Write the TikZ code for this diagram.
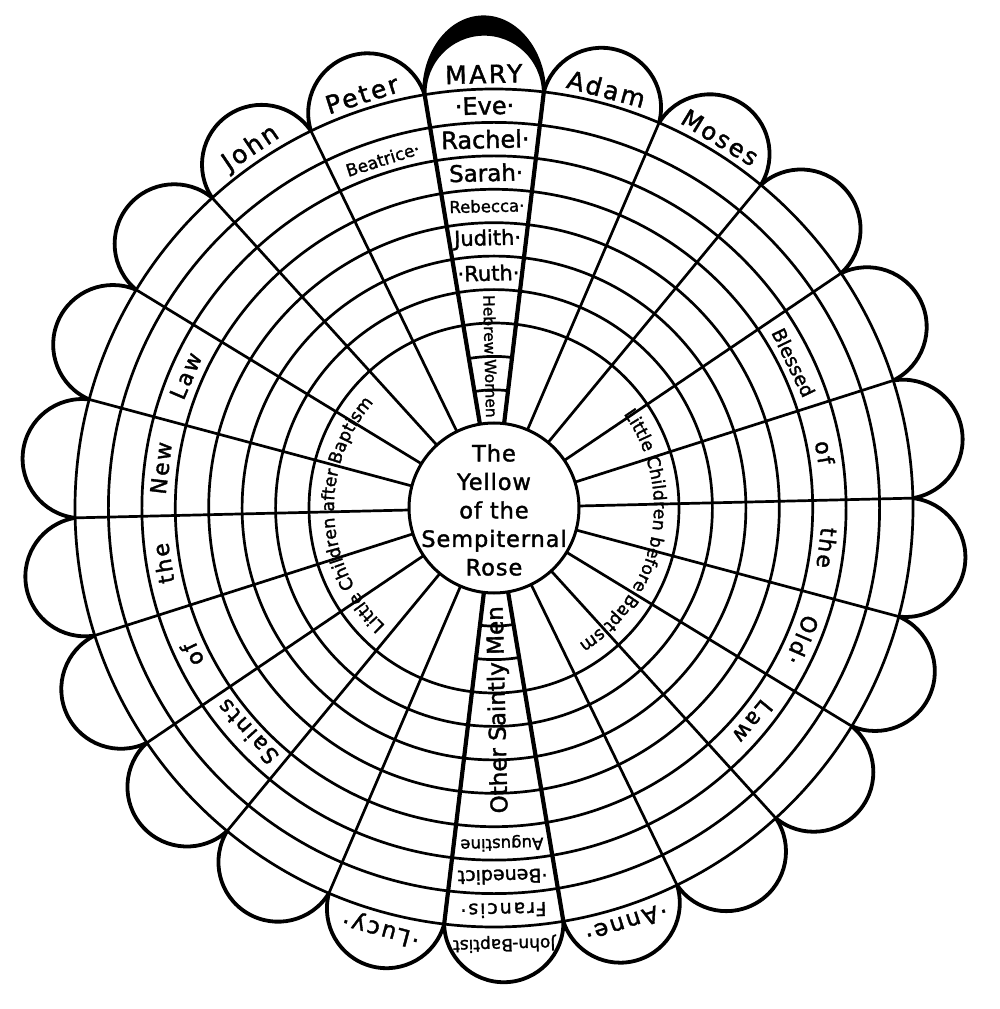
\documentclass[tikz,border=0pt]{standalone}
\usepackage{fontspec}
\setmainfont{DejaVu Sans}
\newfontfamily\rf[FakeBold=1.6]{DejaVu Sans}
\newfontfamily\rfw[FakeBold=1.6,LetterSpace=10]{DejaVu Sans}
\newfontfamily\rfm[FakeBold=1.6,LetterSpace=4]{DejaVu Sans}
\usetikzlibrary{decorations.text}
\newcommand\lcf{\rf\fontsize{17.5}{18}\selectfont}
\tikzset{
  ringline/.style={line width=2.7pt},
  rayline/.style={line width=2.7pt},
  colray/.style={line width=4.2pt},
  petalcap/.style={line width=3.8pt},
  lab/.style={inner sep=0pt, font=\rf\fontsize{#1}{#1}\selectfont},
  wlab/.style={inner sep=0pt, font=\rfw\fontsize{#1}{#1}\selectfont}
}
\begin{document}
\begin{tikzpicture}[x=1pt,y=1pt]
\fill[white] (-494,-501) rectangle (506,508);
\useasboundingbox (-494,-501) rectangle (506,508);

% rings
\foreach \r in {185,218.4,251.9,285.3,318.7,352.1,385.6,419}
  \draw[ringline] (0,0) circle[radius=\r pt];

% short rings inside the two special columns
\foreach \r in {118.1,151.6} {
  \draw[ringline] (83.17:\r pt) arc[start angle=83.17, end angle=99.53, radius=\r pt];
  \draw[ringline] (263.17:\r pt) arc[start angle=263.17, end angle=279.53, radius=\r pt];
}

% rays and petal caps
\foreach \k in {0,...,21} {
  \pgfmathsetmacro\p{1.35+16.3636*\k}
  \pgfmathsetmacro\s{\p+8.1818-90}
  \pgfmathsetmacro\e{\p+8.1818+90}
  \draw[rayline] (\p:85pt) -- (\p:419pt);
  \draw[petalcap] (\p:419pt) arc[start angle=\s, end angle=\e, radius=59.63pt];
}
\foreach \p in {83.17,99.53,263.17,279.53}
  \draw[colray] (\p:85pt) -- (\p:419pt);

% dark band of Mary's petal
\begin{scope}[rotate=1.35]
  \fill (-62,414.73) arc[start angle=180, end angle=0, x radius=62pt, y radius=78pt]
        -- (59.63,414.73) arc[start angle=0, end angle=180, radius=59.63pt] -- cycle;
\end{scope}

% hub
\node[draw, circle, line width=3pt, minimum size=170pt, inner sep=0pt, fill=white] (hub) at (0,0) {};
\node[align=center, inner sep=0pt, font=\rfm\fontsize{22.5}{28.5}\selectfont] (hubtext) at (0,-2)
  {The\\Yellow\\of the\\Sempiternal\\Rose};

% Mary column
\node[wlab=25, rotate=1.35] (mary) at (91.35:434pt) {MARY};
\node[lab=24, rotate=1.35] (eve) at (91.35:402.3pt) {·Eve·};
\node[lab=24, rotate=1.35] (rachel) at (91.35:368.85pt) {Rachel·};
\node[lab=23, rotate=1.35] (sarah) at (91.35:335.4pt) {Sarah·};
\node[lab=16.5, rotate=1.35] (rebecca) at (91.35:302pt) {Rebecca·};
\node[lab=21, rotate=1.35] (judith) at (91.35:268.6pt) {Judith·};
\node[lab=21, rotate=1.35] (ruth) at (91.35:235.1pt) {·Ruth·};
\node[lab=15.5, rotate=-88.65] (hebrew) at (91.35:151.7pt) {Hebrew Women};

% bottom column
\node[lab=17, rotate=181.35] (baptist) at (271.35:436pt) {John-Baptist};
\node[wlab=19, rotate=181.35] (francis) at (271.35:402.3pt) {Francis·};
\node[lab=19, rotate=181.35] (benedict) at (271.35:368.85pt) {·Benedict};
\node[lab=16.5, rotate=181.35] (augustine) at (271.35:335.4pt) {Augustine};
\node[lab=23, rotate=91.35] (saintly) at (271.35:201.85pt) {Other Saintly Men};

% petal names
\node[wlab=25, rotate=-15.01] (adam) at (74.99:434pt) {Adam};
\node[wlab=24, rotate=-31.38] (moses) at (58.62:434pt) {Moses};
\node[wlab=25, rotate=17.71] (peter) at (107.71:434pt) {Peter};
\node[wlab=25, rotate=34.08] (john) at (124.08:434pt) {John};
\node[wlab=23, rotate=164.99] (lucy) at (254.99:436pt) {·Lucy·};
\node[wlab=23, rotate=197.71] (anne) at (287.71:436pt) {·Anne·};
\node[lab=17, rotate=17.71] (beatrice) at (107.71:366pt) {Beatrice·};

% Saints of the New Law
\node[wlab=22, rotate=66.80] (lawnew) at (156.80:335.4pt) {Law};
\node[wlab=22, rotate=83.17] (new) at (173.17:335.4pt) {New};
\node[wlab=22, rotate=99.53] (thenew) at (189.53:335.4pt) {the};
\node[wlab=22, rotate=115.89] (ofnew) at (205.89:335.4pt) {of};
\node[wlab=22, rotate=132.26] (saints) at (222.26:333pt) {Saints};

% Blessed of the Old Law
\node[lab=19, rotate=-64.10] (blessed) at (25.90:333pt) {Blessed};
\node[wlab=22, rotate=-80.47] (ofold) at (9.53:335.4pt) {of};
\node[wlab=22, rotate=-96.83] (theold) at (353.17:335.4pt) {the};
\node[wlab=22, rotate=-113.20] (old) at (336.80:335.4pt) {Old·};
\node[wlab=22, rotate=-129.56] (lawold) at (320.44:335.4pt) {Law};

% little children
\path[decorate, decoration={text along path, text align=center,
   text={|\lcf|Little Children after Baptism}}]
   (229:160pt) arc[start angle=229, end angle=137, radius=160pt];
\path[decorate, decoration={text along path, text align=center,
   text={|\lcf|Little Children before Baptism}}]
   (38:160pt) arc[start angle=38, end angle=-60, radius=160pt];
\end{tikzpicture}
\end{document}
